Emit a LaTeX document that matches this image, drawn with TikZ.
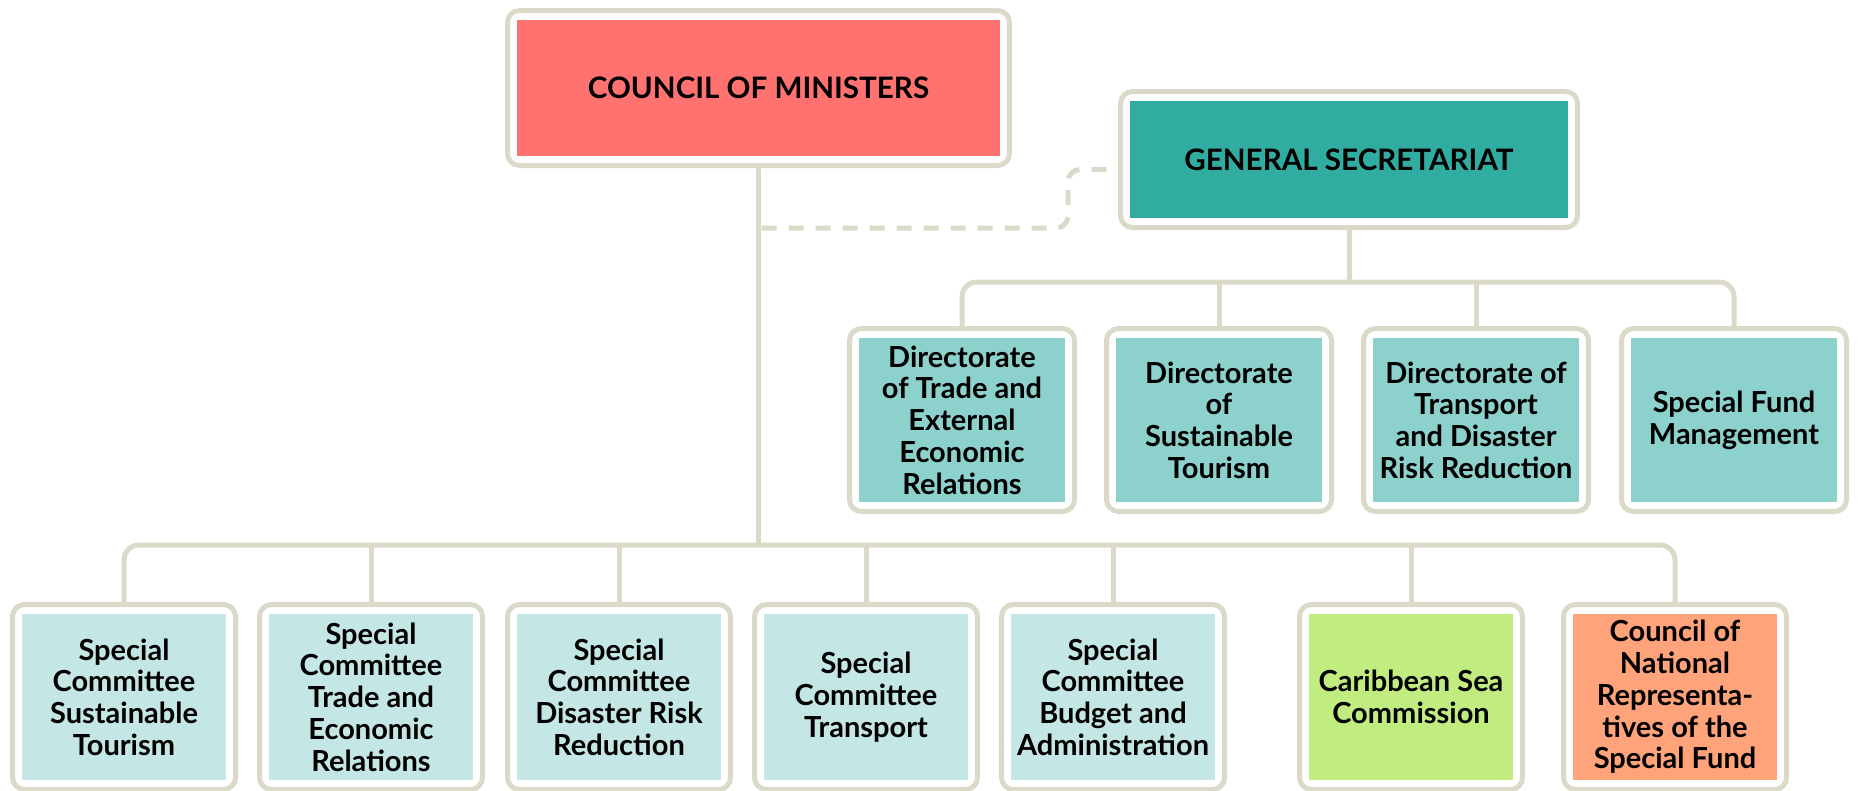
\documentclass[tikz,border=0pt]{standalone}
\usepackage{fontspec}
\setmainfont{Lato}
\definecolor{framec}{HTML}{DBDAC9}
\definecolor{councilc}{HTML}{FF7270}
\definecolor{secc}{HTML}{31ACA0}
\definecolor{dirc}{HTML}{8CD1CC}
\definecolor{comc}{HTML}{C4E6E4}
\definecolor{seac}{HTML}{C1EC80}
\definecolor{fundc}{HTML}{FFA37A}
\begin{document}
\begin{tikzpicture}[x=1pt,y=-1pt,
	box/.style={draw=framec,line width=5pt,rounded corners=12pt,fill=white,inner sep=0pt,align=center,
		font=\bfseries\fontsize{29}{31.7}\selectfont,
		path picture={\fill[#1,sharp corners] ([shift={(9.5pt,-9.5pt)}]path picture bounding box.north west) rectangle ([shift={(-9.5pt,9.5pt)}]path picture bounding box.south east);}},
	headbox/.style={box=#1,font=\bfseries\fontsize{29.6}{34}\selectfont},
	dirbox/.style={box=dirc,minimum width=225pt,minimum height=183pt},
	combox/.style={box=#1,minimum width=223pt,minimum height=185pt},
	conn/.style={draw=framec,line width=5pt},
	dashconn/.style={conn,dash pattern=on 15pt off 12pt}]
	\useasboundingbox (0,0) rectangle (1860,790);
	\node[headbox=councilc,minimum width=502pt,minimum height=155pt] (council) at (758.5,88) {COUNCIL OF MINISTERS};
	\node[headbox=secc,minimum width=457pt,minimum height=136pt] (gs) at (1349,159.5) {GENERAL SECRETARIAT};
	\node[dirbox] (d1) at (962,420) {Directorate\\of Trade and\\External\\Economic\\Relations};
	\node[dirbox] (d2) at (1219,420) {Directorate\\of\\Sustainable\\Tourism};
	\node[dirbox] (d3) at (1476,420) {Directorate of\\Transport\\and Disaster\\Risk Reduction};
	\node[dirbox] (d4) at (1734,420) {Special Fund\\Management};
	\node[combox=comc] (s1) at (124,697) {Special\\Committee\\Sustainable\\Tourism};
	\node[combox=comc] (s2) at (371,697) {Special\\Committee\\Trade and\\Economic\\Relations};
	\node[combox=comc] (s3) at (619,697) {Special\\Committee\\Disaster Risk\\Reduction};
	\node[combox=comc] (s4) at (866,697) {Special\\Committee\\Transport};
	\node[combox=comc] (s5) at (1113,697) {Special\\Committee\\Budget and\\Administration};
	\node[combox=seac] (s6) at (1411,697) {Caribbean Sea\\Commission};
	\node[combox=fundc] (s7) at (1675,697) {Council of\\National\\Representa-\\tives of the\\Special Fund};
	\coordinate (dbus) at (1349,282);
	\coordinate (sbus) at (758.5,545);
	\coordinate (dlink) at (758.5,228);
	\draw[conn] (gs.south) -- (dbus);
	\draw[conn,rounded corners=15pt] (d1.north) |- (dbus) -| (d4.north);
	\foreach \n in {d2,d3}\draw[conn] (\n.north) -- (\n.north |- dbus);
	\draw[conn] (council.south) -- (sbus);
	\draw[conn,rounded corners=15pt] (s1.north) |- (sbus) -| (s7.north);
	\foreach \n in {s2,s3,s4,s5,s6}\draw[conn] (\n.north) -- (\n.north |- sbus);
	\draw[dashconn,rounded corners=12pt] ([xshift=3pt]dlink) -- (1068,228) |- ([yshift=-10pt]gs.west);
\end{tikzpicture}
\end{document}
